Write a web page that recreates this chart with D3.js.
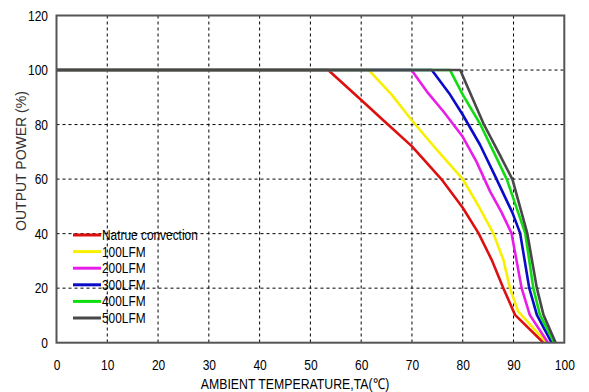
<!DOCTYPE html>
<html><head><meta charset="utf-8">
<script src="https://cdn.jsdelivr.net/npm/d3@7"></script>
<style>body{margin:0;background:#fff}svg{display:block}text{fill:#000;font-family:"Liberation Sans",Arial,sans-serif}</style>
</head><body>
<svg id="c" width="589" height="392"></svg>
<script>
const seriesNames = ["Natrue convection","100LFM","200LFM","300LFM","400LFM","500LFM"];
const seriesColors = ["#dd1010","#f8f000","#e81ee8","#0a0ac8","#10dd10","#484848"];
const natural = [[0,100],[53.5,100],[60,89],[65,80.5],[70,72],[76,59.5],[80,49.5],[83.1,40.2],[85.7,30.4],[88,20],[90.3,10.2],[95.9,0]];
const lfm100 = [[0,100],[61.5,100],[66,91],[70,81.5],[75,70.5],[80,60],[83,50.5],[86,40.2],[88,30.4],[89.3,20],[90.9,11.5],[96.5,0]];
const lfm200 = [[0,100],[69.9,100],[72.9,92.2],[76.2,84.8],[80,75.5],[82.7,66.4],[85.4,55.4],[87.6,48],[89.6,40.2],[91.6,20],[93.2,10.2],[96.8,0]];
const lfm300 = [[0,100],[73.9,100],[77.5,91],[80,83.6],[83.4,72.6],[86.4,61],[89.8,47.6],[91.3,40.2],[93.1,20],[94.6,10.2],[97.5,0]];
const lfm400 = [[0,100],[77.5,100],[80,91],[83.4,80.3],[86.7,67.6],[88.7,59.8],[92.3,40.2],[93.9,20],[95.2,10.2],[98,0]];
const lfm500 = [[0,100],[79.5,100],[84.1,80.3],[87.3,68.9],[89.8,59.8],[92.7,40.2],[94.6,20],[95.9,10.2],[98.3,0]];
const xTicks = [0,10,20,30,40,50,60,70,80,90,100];
const yTicks = [0,20,40,60,80,100,120];
const allSeries = [natural,lfm100,lfm200,lfm300,lfm400,lfm500];

const svg = d3.select("#c");
const L=56.5,R=564.3,T=15.5,B=342.7;
const SX = 0.8;
const x = d3.scaleLinear().domain([0,100]).range([L,R]);
const y = d3.scaleLinear().domain([0,120]).range([B,T]);

// grid
const g = svg.append("g");
g.selectAll("line.vx").data(xTicks.slice(1,-1)).join("line")
  .attr("x1",d=>x(d)).attr("x2",d=>x(d)).attr("y1",T).attr("y2",B)
  .attr("stroke","#000").attr("stroke-width",1).attr("stroke-dasharray","3,3");
g.selectAll("line.hy").data(yTicks.slice(1,-1)).join("line")
  .attr("y1",d=>y(d)).attr("y2",d=>y(d)).attr("x1",L).attr("x2",R)
  .attr("stroke","#000").attr("stroke-width",1).attr("stroke-dasharray","3,3");

// axes (labels only)
const xa = svg.append("g").attr("transform",`translate(0,${B})`).call(d3.axisBottom(x).tickValues(xTicks).tickSize(0).tickPadding(17));
xa.select(".domain").remove();
xa.selectAll("text").attr("font-family",null).attr("font-size",null).style("font-size","15px").attr("transform",`scale(${SX},1)`);
const ya = svg.append("g").attr("transform",`translate(${L},0)`).call(d3.axisLeft(y).tickValues(yTicks).tickSize(0).tickPadding(8.5));
ya.select(".domain").remove();
ya.selectAll("text").attr("font-family",null).attr("font-size",null).style("font-size","15px").attr("x",-8.5/SX).attr("transform",`scale(${SX},1)`);

// lines
const line = d3.line().x(d=>x(d[0])).y(d=>y(d[1]));
allSeries.forEach((s,i)=>{
  svg.append("path").datum(s).attr("d",line).attr("fill","none")
    .attr("stroke",seriesColors[i]).attr("stroke-width",2.6).attr("stroke-linejoin","round");
});

// frame
svg.append("rect").attr("x",L).attr("y",T).attr("width",R-L).attr("height",B-T)
  .attr("fill","none").attr("stroke","#555").attr("stroke-width",2);

// legend
const lg = svg.append("g");
seriesNames.forEach((n,i)=>{
  const yy = 235 + i*16.6;
  lg.append("line").attr("x1",73).attr("x2",101).attr("y1",yy).attr("y2",yy)
    .attr("stroke",seriesColors[i]).attr("stroke-width",3);
  lg.append("text").attr("transform",`translate(102,${yy+5}) scale(0.82,1)`).style("font-size","14.5px").text(n);
});

// titles
svg.append("text").attr("transform","translate(295,389) scale(0.82,1)").attr("text-anchor","middle").style("font-size","15px")
  .text("AMBIENT TEMPERATURE,TA(℃)");
svg.append("text").attr("transform","translate(26,161) rotate(-90)").attr("text-anchor","middle").style("font-size","14px").style("fill","#333")
  .text("OUTPUT POWER (%)");
</script>
</body></html>
